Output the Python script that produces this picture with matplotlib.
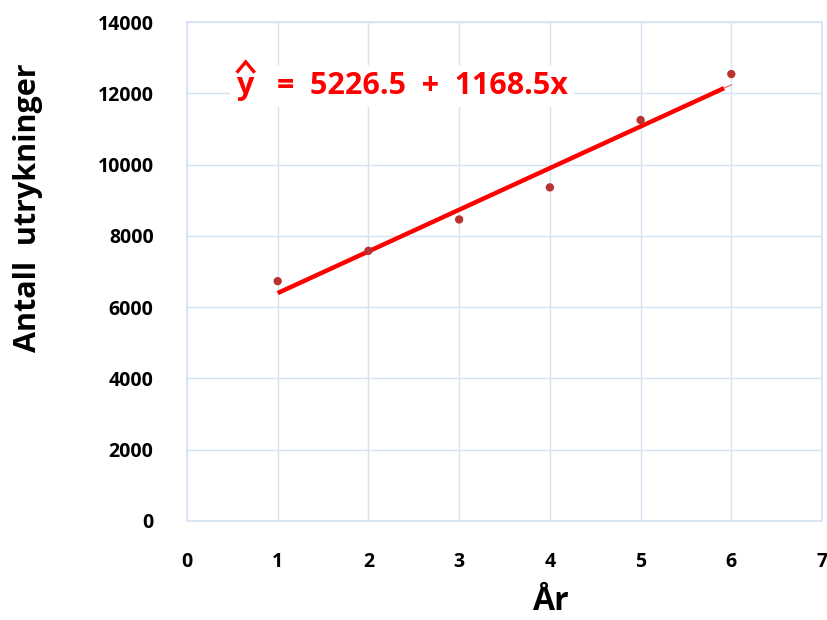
import matplotlib
matplotlib.use('Agg')
import matplotlib.pyplot as plt
import numpy as np

# Årlige utrykninger og regresjonslinje
years = [1, 2, 3, 4, 5, 6]
callouts = [6730, 7580, 8460, 9360, 11250, 12540]
intercept = 5226.5
slope = 1168.5
line_start, line_end = 1.0, 5.92

GRID = '#d6e3f3'
RED = '#ff0000'
DOT = '#b83232'

plt.rcParams.update({
    'font.family': ['Open Sans', 'DejaVu Sans'],
    'font.weight': 'bold',
})

fig = plt.figure(figsize=(8.28, 6.2), dpi=100)
ax = fig.add_axes([0.2258, 0.1597, 0.9928 - 0.2258, 0.9645 - 0.1597])

ax.set_xlim(0, 7)
ax.set_ylim(0, 14000)
ax.set_xticks(range(0, 8))
ax.set_yticks(range(0, 14001, 2000))
ax.grid(True, color=GRID, linewidth=1.0)
ax.set_axisbelow(True)
for side in ax.spines.values():
    side.set_color(GRID)
    side.set_linewidth(1.2)
ax.tick_params(length=0, labelsize=14, pad=24)
ax.tick_params(axis='x', pad=22)
for lbl in ax.get_xticklabels() + ax.get_yticklabels():
    lbl.set_fontweight('bold')

xs = np.array([line_start, line_end])
ax.plot(xs, intercept + slope * xs, color=RED, linewidth=3.2, solid_capstyle='butt', zorder=3)
xe = np.array([line_end, 6.0])
ax.plot(xe, intercept + slope * xe, color='#e06060', linewidth=0.8, zorder=3)
ax.scatter(years, callouts, s=36, color=DOT, edgecolors='none', zorder=4)

# regresjonslikning med hatt over y
ax.text(0.078, 0.872, 'y   =  5226.5  +  1168.5x', transform=ax.transAxes,
        fontsize=22, fontweight='bold', color=RED, va='center', ha='left',
        bbox=dict(boxstyle='square,pad=0.2', facecolor='white', edgecolor='none'), zorder=5)
ax.plot([0.0800, 0.0925, 0.1050], [0.901, 0.920, 0.901], transform=ax.transAxes,
        color=RED, linewidth=2.4, solid_joinstyle='miter', clip_on=False, zorder=6)

fig.text(0.034, 0.665, 'Antall  utrykninger', rotation=90, fontsize=22,
         fontweight='bold', ha='center', va='center')
fig.text(0.665, 0.03, 'År', fontsize=23, fontweight='bold', ha='center', va='center')

fig.savefig('out.png', dpi=100, facecolor='white')
